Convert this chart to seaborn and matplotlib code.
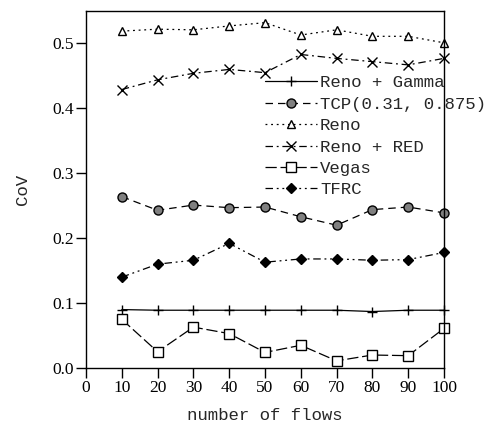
import matplotlib
matplotlib.use("Agg")
import matplotlib.pyplot as plt
import seaborn as sns
import pandas as pd

flows = [10, 20, 30, 40, 50, 60, 70, 80, 90, 100]

reno_gamma = [0.090, 0.089, 0.089, 0.089, 0.089, 0.089, 0.089, 0.087, 0.089, 0.089]
tcp_031_0875 = [0.264, 0.243, 0.251, 0.247, 0.248, 0.233, 0.220, 0.244, 0.248, 0.239]
reno = [0.519, 0.522, 0.521, 0.527, 0.532, 0.513, 0.521, 0.511, 0.511, 0.501]
reno_red = [0.429, 0.444, 0.454, 0.460, 0.455, 0.483, 0.477, 0.472, 0.467, 0.477]
vegas = [0.075, 0.025, 0.063, 0.053, 0.024, 0.035, 0.011, 0.020, 0.019, 0.061]
tfrc = [0.140, 0.160, 0.166, 0.192, 0.163, 0.168, 0.168, 0.166, 0.167, 0.178]

series_names = ["Reno + Gamma", "TCP(0.31, 0.875)", "Reno", "Reno + RED", "Vegas", "TFRC"]
series_values = [reno_gamma, tcp_031_0875, reno, reno_red, vegas, tfrc]

sns.set_style("white")

styles = {
    "Reno + Gamma": dict(marker="+", ms=7, mfc="black", mec="black", ls="-"),
    "TCP(0.31, 0.875)": dict(marker="o", ms=6.5, mfc="#808080", mec="black", ls=(0, (6, 4))),
    "Reno": dict(marker="^", ms=6, mfc="white", mec="black", ls=(0, (1.5, 3))),
    "Reno + RED": dict(marker="x", ms=6.5, mfc="black", mec="black", ls=(0, (6, 3, 1.5, 3))),
    "Vegas": dict(marker="s", ms=6.5, mfc="white", mec="black", ls=(0, (9, 3))),
    "TFRC": dict(marker="D", ms=5, mfc="black", mec="black", ls=(0, (6, 3, 1.5, 3, 1.5, 3))),
}

fig = plt.figure(figsize=(4.94, 4.25), dpi=100)
ax = fig.add_axes([86 / 494, 57 / 425, 358 / 494, 357 / 425])

for name, vals in zip(series_names, series_values):
    df = pd.DataFrame({"flows": flows, "cov": vals})
    st = styles[name]
    sns.lineplot(data=df, x="flows", y="cov", ax=ax, color="black", lw=0.9,
                 marker=st["marker"], markersize=st["ms"], markerfacecolor=st["mfc"],
                 markeredgecolor=st["mec"], markeredgewidth=1.0, linestyle=st["ls"],
                 label=name, clip_on=False)

ax.set_xlim(0, 100)
ax.set_ylim(0, 0.55)
ax.set_xticks(range(0, 101, 10))
ax.set_yticks([0.0, 0.1, 0.2, 0.3, 0.4, 0.5])
ax.set_yticklabels(["0.0", "0.1", "0.2", "0.3", "0.4", "0.5"])

for spine in ax.spines.values():
    spine.set_color("black")
    spine.set_linewidth(1.0)

ax.tick_params(axis="both", which="major", direction="out", length=7, width=1.0,
               colors="black", labelsize=12.5, pad=2,
               bottom=True, left=True, top=False, right=False)
for lbl in ax.get_xticklabels() + ax.get_yticklabels():
    lbl.set_fontfamily("Liberation Serif")

ax.set_xlabel("number of flows", fontfamily="Liberation Mono", fontsize=12.5, labelpad=8)
ax.set_ylabel("CoV", fontfamily="Liberation Mono", fontsize=12.5, labelpad=16)

leg = ax.legend(loc="upper left", bbox_to_anchor=(0.5, 0.82), frameon=False,
                prop={"family": "Liberation Mono", "size": 12.5},
                handlelength=3.0, handletextpad=0.17, labelspacing=0.36,
                borderpad=0, borderaxespad=0)

fig.savefig("out.png", dpi=100)
